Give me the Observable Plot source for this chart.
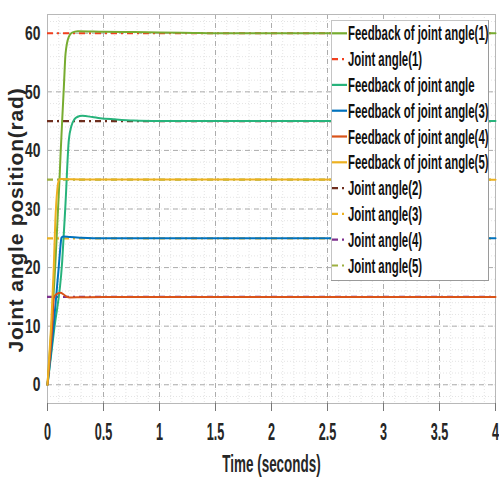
<!DOCTYPE html>
<html><head><meta charset="utf-8">
<script src="https://cdn.jsdelivr.net/npm/d3@7"></script>
<script src="https://cdn.jsdelivr.net/npm/@observablehq/plot@0.6"></script>
<style>
body{margin:0;background:#fff;}
#chart{position:relative;width:499px;height:481px;overflow:hidden;}
#legend{position:absolute;left:331px;top:20px;}
</style></head><body><div id="chart"></div>
<script>
// ---- data ----
const timeTicks = [0, 0.5, 1, 1.5, 2, 2.5, 3, 3.5, 4];
const timeTickLabels = ["0", "0.5", "1", "1.5", "2", "2.5", "3", "3.5", "4"];
const angleTicks = [0, 10, 20, 30, 40, 50, 60];
const xLabel = "Time (seconds)";
const yLabel = "Joint angle position(rad)";

// feedback curves (time s, angle)
const fb1T = [0, 0.071, 0.107, 0.116, 0.131, 0.146, 0.161, 0.19, 0.22, 0.27, 0.5, 0.77, 1.2, 1.66, 2.5, 4];
const fb1V = [0, 21, 35, 39, 45.1, 50.8, 56.5, 59.4, 60.1, 60.35, 60.25, 60.2, 60.1, 60.0, 60.0, 60.0];
const fb2T = [0, 0.06, 0.131, 0.161, 0.19, 0.214, 0.24, 0.265, 0.31, 0.4, 0.47, 0.6, 0.77, 1.0, 1.3, 4];
const fb2V = [0, 9.5, 21, 31, 41.7, 44.2, 45.3, 45.7, 45.9, 45.7, 45.5, 45.3, 45.1, 45.02, 45, 45];
const fb3T = [0, 0.05, 0.1, 0.115, 0.125, 0.14, 0.2, 0.3, 0.5, 4];
const fb3V = [0, 9, 20, 23.5, 25.1, 25.3, 25.2, 25.1, 25, 25];
const fb4T = [0, 0.045, 0.056, 0.075, 0.116, 0.145, 0.17, 0.2, 0.3, 0.5, 4];
const fb4V = [0, 11, 14.8, 15.4, 15.7, 15.4, 15.05, 14.9, 14.95, 15, 15];
const fb5T = [0, 0.056, 0.07, 0.087, 0.1, 0.115, 0.3, 4];
const fb5V = [0, 20, 28, 33.2, 34.8, 35.1, 35.05, 35];

// reference joint angles
const refNames = ["Joint angle(1)", "Joint angle(2)", "Joint angle(3)", "Joint angle(4)", "Joint angle(5)"];
const refValues = [60, 45, 25, 15, 35];
const refColors = ["#F2401F", "#6E2E1E", "#EDB120", "#7E2F8E", "#9DB040"];

const fbNames = ["Feedback of joint angle(1)", "Feedback of joint angle", "Feedback of joint angle(3)", "Feedback of joint angle(4)", "Feedback of joint angle(5)"];
const fbColors = ["#77AC30", "#27B37B", "#0072BD", "#D95319", "#EDB120"];
const fbT = [fb1T, fb2T, fb3T, fb4T, fb5T];
const fbV = [fb1V, fb2V, fb3V, fb4V, fb5V];

// legend order
const legendOrder = [
  ["fb", 0], ["ref", 0], ["fb", 1], ["fb", 2], ["fb", 3], ["fb", 4],
  ["ref", 1], ["ref", 2], ["ref", 3], ["ref", 4]
];

// ---- build ----
const FONT = "'Liberation Sans', Arial, Helvetica, sans-serif";
const dash = "6,4,2,4";

const refMarks = refValues.map((v, i) =>
  Plot.ruleY([v], {stroke: refColors[i], strokeWidth: 2.2, strokeDasharray: dash})
);
const fbMarks = fbT.map((T, i) =>
  Plot.line(T.map((t, j) => ({t, v: fbV[i][j]})), {x: "t", y: "v", stroke: fbColors[i], strokeWidth: 2, curve: "monotone-x"})
);

const svg = Plot.plot({
  width: 499, height: 481,
  marginTop: 14, marginBottom: 78, marginLeft: 47, marginRight: 4,
  style: {fontFamily: FONT, fontWeight: "bold", fontSize: "20px", color: "#262626", background: "#fff"},
  x: {domain: [0, 4]},
  y: {domain: [-3.2, 63.2]},
  marks: [
    Plot.gridX({ticks: 40, stroke: "#e4e4e4", strokeOpacity: 1, strokeDasharray: "1,2"}),
    Plot.gridY({ticks: 33, stroke: "#e4e4e4", strokeOpacity: 1, strokeDasharray: "1,2"}),
    Plot.gridX(timeTicks, {stroke: "#adadad", strokeOpacity: 1, strokeDasharray: "5,4"}),
    Plot.gridY(angleTicks, {stroke: "#adadad", strokeOpacity: 1, strokeDasharray: "5,4"}),
    Plot.frame({stroke: "#b8b8b8"}),
    Plot.axisX(timeTicks, {tickSize: 8, tickPadding: 12, stroke: "#777", fontSize: 23, label: null,
      tickFormat: (d) => timeTickLabels[timeTicks.indexOf(d)]}),
    Plot.axisY(angleTicks, {tickSize: 0, tickPadding: 7, fontSize: 21, label: null}),
    ...refMarks,
    ...fbMarks,
    Plot.text([xLabel], {frameAnchor: "bottom", dy: 51, lineAnchor: "top", fontSize: 24, fontWeight: "bold", fill: "#262626"}),
    Plot.text([yLabel], {frameAnchor: "left", textAnchor: "middle", dx: -31, dy: 11, rotate: -90, fontSize: 21, fontWeight: "bold", fill: "#262626"})
  ]
});

const chart = document.getElementById("chart");
chart.appendChild(svg);

function squash(sel, k) {
  sel.each(function () {
    const tr = this.getAttribute("transform") || "";
    this.setAttribute("transform", tr + ` scale(${k},1)`);
  });
}
const s = d3.select(svg);
squash(s.selectAll('g[aria-label="x-axis tick label"] text'), 0.55);
squash(s.selectAll('g[aria-label="y-axis tick label"] text'), 0.66);
s.selectAll("text").each(function () {
  if (this.textContent === xLabel) {
    const tr = this.getAttribute("transform") || "";
    this.setAttribute("transform", tr + " scale(0.56,1)");
  }
  if (this.textContent === yLabel) {
    this.setAttribute("letter-spacing", "0.8");
  }
});

// ---- legend ----
const LW = 158, LH = 261, rowY0 = 13.3, rowStep = 25.8;
const leg = d3.select(chart).append("svg")
  .attr("id", "legend").attr("width", LW).attr("height", LH)
  .style("font-family", FONT).style("font-weight", "bold");
leg.append("rect").attr("x", 0.5).attr("y", 0.5).attr("width", LW - 1).attr("height", LH - 1)
  .attr("fill", "#fff").attr("stroke", "#c4c4c4");
leg.append("line").attr("x1", 0).attr("x2", LW).attr("y1", LH - 0.5).attr("y2", LH - 0.5).attr("stroke", "#9a9a9a");
leg.append("line").attr("x1", LW - 0.5).attr("x2", LW - 0.5).attr("y1", 0).attr("y2", LH).attr("stroke", "#9a9a9a");
legendOrder.forEach(([kind, idx], r) => {
  const y = rowY0 + r * rowStep;
  const color = kind === "fb" ? fbColors[idx] : refColors[idx];
  const name = kind === "fb" ? fbNames[idx] : refNames[idx];
  leg.append("line").attr("x1", 1).attr("x2", 16).attr("y1", y).attr("y2", y)
    .attr("stroke", color).attr("stroke-width", 2.2)
    .attr("stroke-dasharray", kind === "fb" ? null : "6,4,2,4");
  leg.append("text").attr("transform", `translate(17,${y + 7}) scale(0.57,1)`)
    .attr("font-size", 20).attr("fill", "#111").text(name);
});
</script></body></html>
